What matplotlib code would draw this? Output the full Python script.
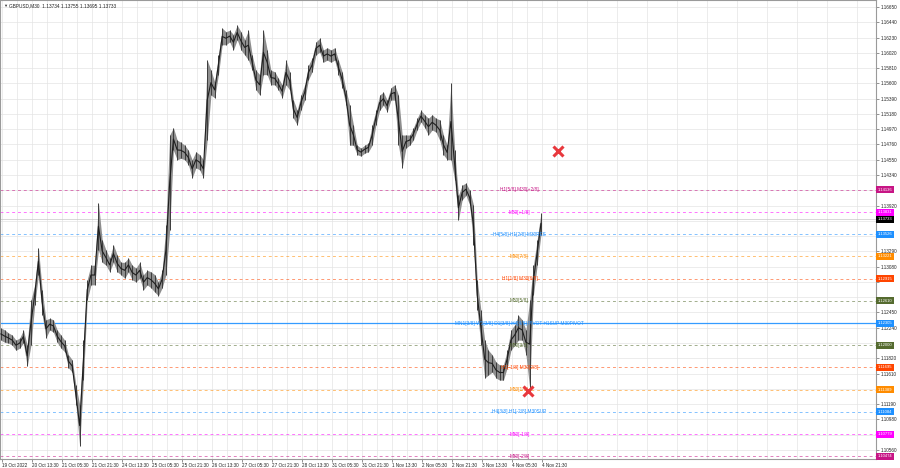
import numpy as np
import matplotlib
matplotlib.use("Agg")
import matplotlib.pyplot as plt

# --- data -----------------------------------------------------------------
# 2-hour groups of M30 bars (bar index = 4 * j); highs / lows
highs = [1.1224, 1.1221, 1.1217, 1.1214, 1.1207, 1.1210, 1.1221, 1.1200, 1.1262, 1.1283,
         1.1334, 1.1276, 1.1235, 1.1237, 1.1235, 1.1221, 1.1214, 1.1207, 1.1187, 1.1180,
         1.1145, 1.1118, 1.1207, 1.1290, 1.1310, 1.1310, 1.1396, 1.1345, 1.1331, 1.1320,
         1.1338, 1.1324, 1.1314, 1.1314, 1.1320, 1.1310, 1.1306, 1.1314, 1.1297, 1.1303,
         1.1301, 1.1297, 1.1287, 1.1303, 1.1365, 1.1489, 1.1499, 1.1482, 1.1479, 1.1475,
         1.1468, 1.1455, 1.1466, 1.1462, 1.1455, 1.1592, 1.1578, 1.1562, 1.1599, 1.1636,
         1.1631, 1.1633, 1.1627, 1.1640, 1.1631, 1.1620, 1.1633, 1.1599, 1.1578, 1.1572,
         1.1633, 1.1606, 1.1578, 1.1576, 1.1567, 1.1558, 1.1592, 1.1576, 1.1537, 1.1523,
         1.1544, 1.1558, 1.1585, 1.1595, 1.1617, 1.1622, 1.1606, 1.1609, 1.1606, 1.1609,
         1.1592, 1.1576, 1.1551, 1.1530, 1.1503, 1.1475, 1.1471, 1.1475, 1.1478, 1.1503,
         1.1523, 1.1544, 1.1548, 1.1537, 1.1554, 1.1558, 1.1544, 1.1489, 1.1489, 1.1489,
         1.1499, 1.1512, 1.1523, 1.1517, 1.1512, 1.1517, 1.1512, 1.1510, 1.1489, 1.1475,
         1.1560, 1.1468, 1.1406, 1.1420, 1.1423, 1.1413, 1.1393, 1.1290, 1.1248, 1.1207,
         1.1193, 1.1187, 1.1177, 1.1173, 1.1173, 1.1193, 1.1221, 1.1228, 1.1241, 1.1235,
         1.1221, 1.1262, 1.1310, 1.1345, 1.1382]
lows = [1.1207, 1.1204, 1.1203, 1.1200, 1.1193, 1.1196, 1.1203, 1.1171, 1.1200, 1.1255,
        1.1297, 1.1242, 1.1210, 1.1221, 1.1218, 1.1204, 1.1196, 1.1191, 1.1169, 1.1163,
        1.1118, 1.1061, 1.1152, 1.1262, 1.1283, 1.1283, 1.1331, 1.1314, 1.1310, 1.1301,
        1.1314, 1.1301, 1.1297, 1.1292, 1.1301, 1.1290, 1.1287, 1.1292, 1.1276, 1.1283,
        1.1279, 1.1273, 1.1268, 1.1279, 1.1297, 1.1358, 1.1468, 1.1455, 1.1457, 1.1455,
        1.1448, 1.1430, 1.1444, 1.1441, 1.1430, 1.1482, 1.1544, 1.1540, 1.1572, 1.1613,
        1.1613, 1.1617, 1.1606, 1.1620, 1.1606, 1.1599, 1.1592, 1.1578, 1.1551, 1.1544,
        1.1572, 1.1572, 1.1558, 1.1558, 1.1551, 1.1540, 1.1558, 1.1551, 1.1512, 1.1503,
        1.1523, 1.1537, 1.1565, 1.1576, 1.1599, 1.1603, 1.1589, 1.1592, 1.1589, 1.1592,
        1.1572, 1.1554, 1.1530, 1.1475, 1.1475, 1.1462, 1.1460, 1.1464, 1.1466, 1.1475,
        1.1503, 1.1523, 1.1530, 1.1521, 1.1537, 1.1537, 1.1475, 1.1444, 1.1471, 1.1475,
        1.1482, 1.1496, 1.1507, 1.1499, 1.1489, 1.1496, 1.1493, 1.1482, 1.1462, 1.1455,
        1.1455, 1.1427, 1.1372, 1.1400, 1.1406, 1.1393, 1.1338, 1.1248, 1.1200, 1.1155,
        1.1159, 1.1163, 1.1155, 1.1152, 1.1152, 1.1169, 1.1193, 1.1200, 1.1207, 1.1207,
        1.1187, 1.1141, 1.1269, 1.1310, 1.1352]

levels = [1.14136, 1.13831, 1.13526, 1.13221, 1.12915, 1.12610, 1.12305,
          1.12000, 1.11695, 1.11389, 1.11084, 1.10779, 1.10474]
level_names = ["H1[5/8] M30[+2/8]", "M30[+1/8]", "H4[5/8] H1[2/8] M30RES", "M30[7/8]",
               "H1[1/8] M30[6/8]", "M30[5/8]",
               "MN1[3/8] W1[3/8] D1[3/8] H4[4/8] PIVOT H1SUP M30PIVOT",
               "M30[3/8]", "H1[-1/8] M30[2/8]", "M30[1/8]", "H4[3/8] H1[-2/8] M30SUP",
               "M30[-1/8]", "M30[-2/8]"]
level_colors = ["#c71585", "#ff00ff", "#1e90ff", "#ff8c00", "#ff4500", "#556b2f",
                "#1e90ff", "#556b2f", "#ff4500", "#ff8c00", "#1e90ff", "#ff00ff", "#c71585"]

last_price = 1.13733
mark_bars = [594, 562]
mark_prices = [1.1467, 1.1137]

time_labels = ["19 Oct 2022", "20 Oct 13:30", "21 Oct 05:30", "21 Oct 21:30", "24 Oct 13:30",
               "25 Oct 05:30", "25 Oct 21:30", "26 Oct 13:30", "27 Oct 05:30", "27 Oct 21:30",
               "28 Oct 13:30", "31 Oct 05:30", "31 Oct 21:30", "1 Nov 13:30", "2 Nov 05:30",
               "2 Nov 21:30", "3 Nov 13:30", "4 Nov 05:30", "4 Nov 21:30"]
price_ticks = [1.16650 - 0.0021 * k for k in range(30)]

FONT = ["Liberation Sans", "DejaVu Sans"]
plt.rcParams["font.family"] = FONT

W, H = 900, 468
fig = plt.figure(figsize=(W / 100, H / 100), dpi=100)
ax = fig.add_axes([0, 9 / H, 876 / W, 459 / H])
ax.set_xlim(-1, 933.4)
ax.set_ylim(1.10436, 1.16746)
span = 1.16746 - 1.10436

# price scale labels that sit under a coloured box are hidden, as in the terminal
boxed = levels + [last_price]
shown = [v if min(abs(v - b) for b in boxed) > 0.6 * 7 / 459 * span else None
         for v in price_ticks]

ax.set_xticks([1 + 32 * k for k in range(len(time_labels))])
ax.set_xticks([17 + 32 * k for k in range(29)], minor=True)
ax.set_xticklabels(time_labels, ha="left", fontsize=3.3, color="#222222")
ax.set_yticks(price_ticks)
ax.set_yticklabels(["" if v is None else f"{v:.5f}" for v in shown],
                   fontsize=3.3, color="#222222")
ax.yaxis.tick_right()
ax.tick_params(axis="y", length=2, pad=1.5, width=0.5, color="#666666")
ax.tick_params(axis="x", which="major", length=2, pad=1, width=0.5, color="#666666")
ax.tick_params(axis="x", which="minor", length=0)
ax.grid(True, which="both", color="#e4e4e4", lw=0.5)
ax.set_axisbelow(True)
for s in ax.spines.values():
    s.set_color("#9a9a9a")
    s.set_linewidth(0.8)

# level lines
for lv, name, col in zip(levels, level_names, level_colors):
    solid = "PIVOT" in name
    ax.axhline(lv, color=col, lw=0.9 if solid else 0.7,
               ls="-" if solid else (0, (3, 3)), alpha=0.9 if solid else 0.55, zorder=2)
    ax.text(553, lv, name, color=col, fontsize=3.4, ha="center", va="center", zorder=4)
    ax.text(1.002, lv, f"{lv:.5f}", transform=ax.get_yaxis_transform(), color="white",
            fontsize=3.0, ha="left", va="center", zorder=6, clip_on=False,
            bbox=dict(boxstyle="square,pad=0.35", fc=col, ec="none"))
ax.axhline(last_price, color="#c8c8c8", lw=0.5, zorder=2)
ax.text(1.002, last_price, f"{last_price:.5f}", transform=ax.get_yaxis_transform(),
        color="white", fontsize=3.0, ha="left", va="center", zorder=6, clip_on=False,
        bbox=dict(boxstyle="square,pad=0.35", fc="black", ec="none"))

# price bars: grey wick band, dark bar ranges and a body line through the middle
xs = np.arange(len(highs)) * 4
hi = np.array(highs)
lo = np.array(lows)
ax.fill_between(xs, lo, hi, color="#8e8e8e", lw=0, zorder=3)
ax.vlines(xs, lo, hi, color="#3c3c3c", lw=0.7, zorder=3)
ax.plot(xs, (hi + lo) / 2, color="#1e1e1e", lw=0.8, zorder=3)

# signal marks
ax.plot(mark_bars, mark_prices, ls="none", marker="x", ms=7, mew=2.2,
        color="#e8383d", zorder=5)

# header
fig.text(0.003, 1 - 6 / H, "\u25bc", fontsize=3, va="center", color="#333333")
fig.text(0.010, 1 - 6 / H, "GBPUSD,M30  1.13734 1.13755 1.13695 1.13733",
         fontsize=3.4, va="center", color="#222222")

fig.savefig("out.png", dpi=100)
